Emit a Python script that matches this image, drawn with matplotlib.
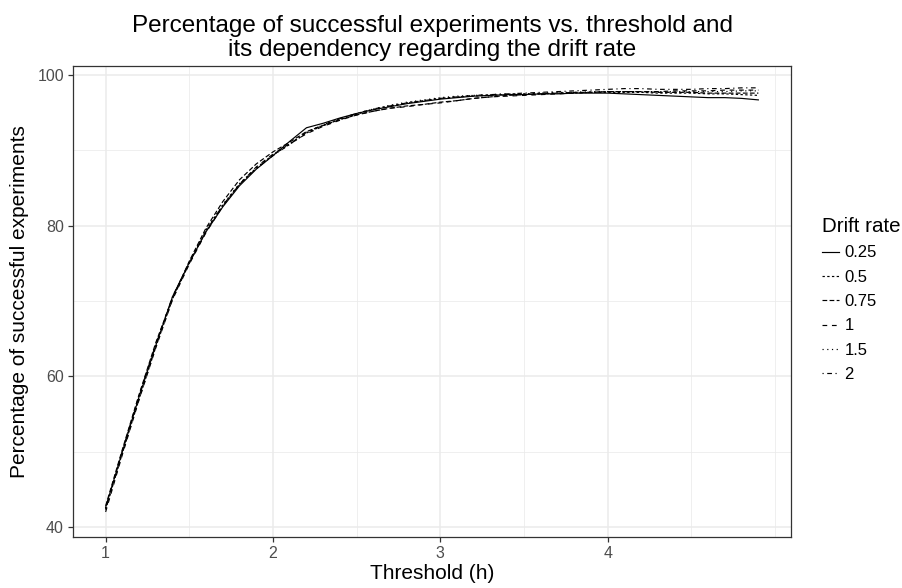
import matplotlib
matplotlib.use("Agg")
import matplotlib.pyplot as plt
from matplotlib.ticker import MultipleLocator

plt.rcParams["font.family"] = ["Liberation Sans", "DejaVu Sans"]

threshold = [1.0, 1.1, 1.2, 1.3, 1.4, 1.5, 1.6, 1.7, 1.8, 1.9,
             2.0, 2.1, 2.2, 2.3, 2.4, 2.5, 2.6, 2.7, 2.8, 2.9,
             3.0, 3.1, 3.2, 3.3, 3.4, 3.5, 3.6, 3.7, 3.8, 3.9,
             4.0, 4.1, 4.2, 4.3, 4.4, 4.5, 4.6, 4.7, 4.8, 4.9]

drift_025 = [42.6, 50.0, 57.3, 64.1, 70.6, 75.1, 79.2, 82.5, 85.3, 87.5,
             89.3, 91.2, 93.0, 93.6, 94.3, 94.9, 95.4, 95.8, 96.2, 96.5,
             96.8, 97.0, 97.2, 97.3, 97.4, 97.4, 97.5, 97.5, 97.6, 97.6,
             97.6, 97.5, 97.4, 97.3, 97.2, 97.1, 97.0, 97.0, 96.9, 96.7]
drift_05 = [42.3, 49.8, 57.0, 63.9, 70.3, 75.0, 79.4, 82.7, 85.5, 87.6,
            89.4, 90.8, 92.3, 93.3, 94.1, 94.8, 95.4, 95.9, 96.3, 96.6,
            96.9, 97.1, 97.2, 97.3, 97.4, 97.5, 97.5, 97.6, 97.6, 97.7,
            97.7, 97.7, 97.7, 97.6, 97.6, 97.6, 97.5, 97.5, 97.4, 97.3]
drift_075 = [42.8, 50.3, 57.6, 64.5, 70.4, 75.3, 79.7, 83.2, 86.1, 88.2,
             89.8, 91.1, 92.5, 93.3, 94.1, 94.7, 95.2, 95.6, 95.9, 96.1,
             96.4, 96.6, 96.9, 97.1, 97.3, 97.4, 97.5, 97.6, 97.7, 97.7,
             97.8, 97.8, 97.8, 97.7, 97.7, 97.7, 97.6, 97.6, 97.6, 97.6]
drift_1 = [42.0, 49.6, 56.9, 63.8, 70.2, 74.9, 79.1, 82.6, 85.5, 87.8,
           89.5, 90.9, 92.2, 93.2, 94.0, 94.7, 95.2, 95.6, 95.8, 96.1,
           96.3, 96.6, 96.9, 97.1, 97.2, 97.3, 97.4, 97.5, 97.6, 97.7,
           97.8, 97.8, 97.8, 97.8, 97.9, 97.9, 97.9, 98.0, 98.0, 98.0]
drift_15 = [42.4, 50.0, 57.4, 64.2, 70.5, 75.2, 79.5, 82.8, 85.6, 87.7,
            89.4, 90.9, 92.4, 93.4, 94.2, 94.9, 95.5, 96.0, 96.4, 96.7,
            97.0, 97.2, 97.3, 97.4, 97.5, 97.5, 97.6, 97.7, 97.7, 97.8,
            97.8, 97.8, 97.8, 97.8, 97.8, 97.8, 97.8, 97.8, 97.9, 97.9]
drift_2 = [42.5, 50.1, 57.5, 64.3, 70.6, 75.1, 79.3, 82.7, 85.5, 87.6,
           89.3, 90.8, 92.4, 93.4, 94.2, 94.9, 95.5, 95.9, 96.3, 96.6,
           96.9, 97.1, 97.3, 97.4, 97.5, 97.6, 97.7, 97.8, 97.9, 98.0,
           98.1, 98.2, 98.2, 98.1, 98.1, 98.1, 98.2, 98.2, 98.3, 98.3]

labels = ["0.25", "0.5", "0.75", "1", "1.5", "2"]
series = [drift_025, drift_05, drift_075, drift_1, drift_15, drift_2]
# ggplot default linetypes: solid, 22, 42, 44, 13, 1343
dash_styles = [None, (2, 2), (4, 2), (4, 4), (1, 3), (1, 3, 4, 3)]

fig = plt.figure(figsize=(9.02, 5.88), dpi=100)
ax = fig.add_axes([73 / 902, 1 - 537 / 588, (791 - 73) / 902, (537 - 66) / 588])

for ys, lab, ds in zip(series, labels, dash_styles):
    line, = ax.plot(threshold, ys, color="black", linewidth=0.85, label=lab,
                    solid_joinstyle="miter")
    if ds is not None:
        line.set_dashes(ds)

ax.set_xlim(0.805, 5.095)
ax.set_ylim(38.67, 101.2)
ax.xaxis.set_minor_locator(MultipleLocator(0.5))
ax.yaxis.set_major_locator(MultipleLocator(20))
ax.yaxis.set_minor_locator(MultipleLocator(10))
ax.set_xticks([1, 2, 3, 4])

ax.grid(which="major", color="#EBEBEB", linewidth=1.1)
ax.grid(which="minor", color="#EBEBEB", linewidth=0.55)
ax.set_axisbelow(True)
for sp in ax.spines.values():
    sp.set_color("#333333")
    sp.set_linewidth(0.9)
ax.tick_params(which="major", length=3.5, width=0.9, color="#333333",
               labelcolor="#4D4D4D", labelsize=11.5, pad=3)
ax.tick_params(which="minor", length=0)

ax.set_xlabel("Threshold (h)", fontsize=15, labelpad=2)
ax.set_ylabel("Percentage of successful experiments", fontsize=15, labelpad=6)
ax.set_title("Percentage of successful experiments vs. threshold and\n"
             "its dependency regarding the drift rate",
             fontsize=17.5, linespacing=1.12, pad=7)

fig.legend(loc="upper left", bbox_to_anchor=(822 / 902, 1 - 217 / 588),
           title="Drift rate", title_fontsize=14.8, fontsize=12,
           frameon=False, handlelength=1.0, handletextpad=0.35,
           labelspacing=0.56, alignment="left", borderaxespad=0, borderpad=0)

fig.savefig("out.png", dpi=100)
